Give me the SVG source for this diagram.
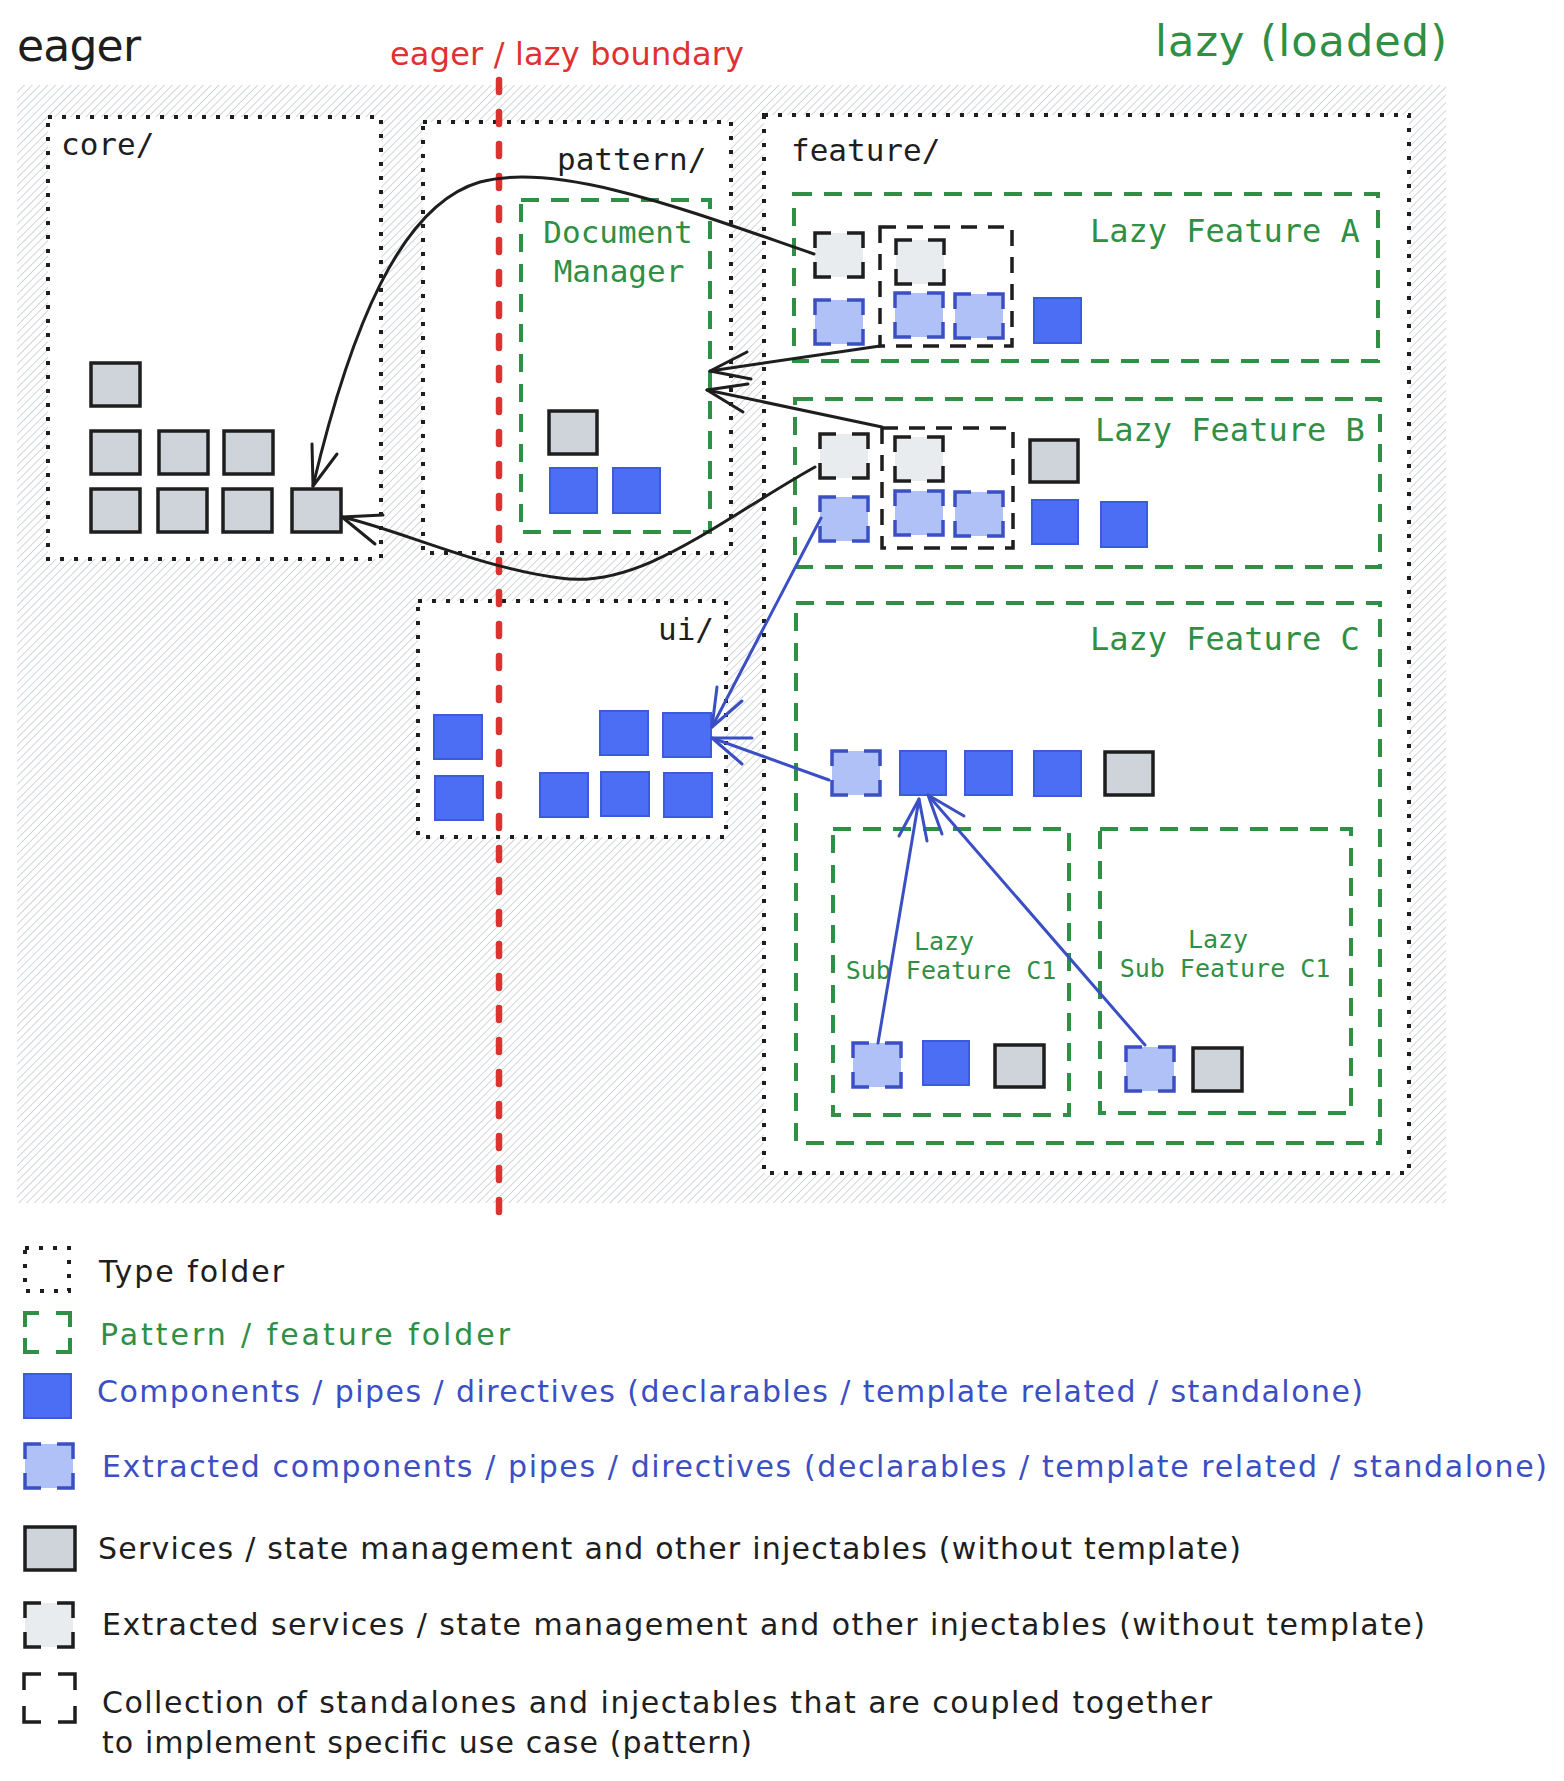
<svg xmlns="http://www.w3.org/2000/svg" xmlns:xlink="http://www.w3.org/1999/xlink" width="1564" height="1781" viewBox="0 0 1564 1781">
<style>
.hand{font-family:"DejaVu Sans","Liberation Sans",sans-serif}
.mono{font-family:"DejaVu Sans Mono","Liberation Mono",monospace}
.folder{fill:#fff;stroke:#1e1e1e;stroke-width:4;stroke-dasharray:4 10}
.gbox{fill:none;stroke:#2f8f44;stroke-width:4;stroke-dasharray:18 12}
.cbox{fill:none;stroke:#1e1e1e;stroke-width:3.5;stroke-dasharray:16 11}
.svc{fill:#ced4da;stroke:#1e1e1e;stroke-width:3.5}
.cmp{fill:#4c6ef5;stroke:#3b5bdb;stroke-width:2}
.xs{fill:#e9ecef;stroke:#1e1e1e}
.xb{fill:#b0c1f7;stroke:#3b4fc4}
.blk{fill:#1e1e1e}
.grn{fill:#2f8f44}
.blu{fill:#3b4fc4}
.arrow{fill:none;stroke:#1e1e1e;stroke-width:3;stroke-linecap:round;stroke-linejoin:round}
.barrow{fill:none;stroke:#3b4fc4;stroke-width:3;stroke-linecap:round;stroke-linejoin:round}
</style>
<defs>
<pattern id="hatch" patternUnits="userSpaceOnUse" width="5.5" height="5.5" patternTransform="rotate(45)">
<line x1="0" y1="0" x2="0" y2="5.5" stroke="#bfc4c9" stroke-width="1.4"/>
</pattern>
<g id="xc">
<rect width="48" height="44" stroke="none"/>
<path d="M0,15V0H16M32,0H48V15M48,29V44H32M16,44H0V29" fill="none" stroke-width="3.5"/>
</g>
</defs>
<rect width="1564" height="1781" fill="#fff"/>
<rect id="background" x="17" y="85" width="1429" height="1118" fill="url(#hatch)"/>

<text class="hand blk" x="17" y="61" font-size="44" textLength="124">eager</text>
<text class="hand" x="390" y="65" font-size="32" fill="#e03131" textLength="354">eager / lazy boundary</text>
<text class="hand grn" x="1155" y="56" font-size="43" textLength="292">lazy (loaded)</text>

<g id="core">
<rect class="folder" x="48" y="117" width="333" height="442"/>
<text class="mono blk" x="61" y="155" font-size="31">core/</text>
<rect class="svc" x="91" y="363" width="49" height="43"/>
<rect class="svc" x="91" y="431" width="49" height="43"/>
<rect class="svc" x="159" y="431" width="49" height="43"/>
<rect class="svc" x="224" y="431" width="49" height="43"/>
<rect class="svc" x="91" y="489" width="49" height="43"/>
<rect class="svc" x="158" y="489" width="49" height="43"/>
<rect class="svc" x="223" y="489" width="49" height="43"/>
<rect class="svc" x="292" y="489" width="49" height="43"/>
</g>

<g id="pattern">
<rect class="folder" x="423" y="122" width="308" height="431"/>
<text class="mono blk" x="557" y="170" font-size="31">pattern/</text>
</g>

<g id="document-manager">
<rect class="gbox" x="521" y="200" width="189" height="332"/>
<text class="mono grn" x="618" y="243" font-size="31" text-anchor="middle">Document</text>
<text class="mono grn" x="619" y="282" font-size="31" text-anchor="middle">Manager</text>
<rect class="svc" x="549" y="411" width="48" height="43"/>
<rect class="cmp" x="550" y="468" width="47" height="45"/>
<rect class="cmp" x="613" y="468" width="47" height="45"/>
</g>

<g id="ui">
<rect class="folder" x="418" y="601" width="308" height="236"/>
<text class="mono blk" x="658" y="640" font-size="31">ui/</text>
<rect class="cmp" x="434" y="715" width="48" height="44"/>
<rect class="cmp" x="435" y="776" width="48" height="44"/>
<rect class="cmp" x="600" y="711" width="48" height="44"/>
<rect class="cmp" x="663" y="713" width="48" height="44"/>
<rect class="cmp" x="540" y="773" width="48" height="44"/>
<rect class="cmp" x="601" y="772" width="48" height="44"/>
<rect class="cmp" x="664" y="773" width="48" height="44"/>
</g>

<g id="feature">
<rect class="folder" x="764" y="115" width="645" height="1058"/>
<text class="mono blk" x="791" y="161" font-size="31">feature/</text>
</g>

<g id="lazy-feature-a">
<rect class="gbox" x="794" y="194" width="584" height="167"/>
<text class="mono grn" x="1090" y="242" font-size="32">Lazy Feature A</text>
<use href="#xc" class="xs" x="815" y="233"/>
<use href="#xc" class="xb" x="815" y="300"/>
<rect class="cbox" x="880" y="227" width="132" height="119"/>
<use href="#xc" class="xs" x="896" y="240"/>
<use href="#xc" class="xb" x="895" y="293"/>
<use href="#xc" class="xb" x="955" y="294"/>
<rect class="cmp" x="1034" y="298" width="47" height="45"/>
</g>

<g id="lazy-feature-b">
<rect class="gbox" x="795" y="399" width="585" height="168"/>
<text class="mono grn" x="1095" y="441" font-size="32">Lazy Feature B</text>
<use href="#xc" class="xs" x="820" y="434"/>
<use href="#xc" class="xb" x="820" y="497"/>
<rect class="cbox" x="882" y="428" width="131" height="120"/>
<use href="#xc" class="xs" x="895" y="437"/>
<use href="#xc" class="xb" x="895" y="491"/>
<use href="#xc" class="xb" x="955" y="492"/>
<rect class="svc" x="1030" y="440" width="48" height="42"/>
<rect class="cmp" x="1032" y="500" width="46" height="44"/>
<rect class="cmp" x="1101" y="502" width="46" height="45"/>
</g>

<g id="lazy-feature-c">
<rect class="gbox" x="796" y="603" width="584" height="540"/>
<text class="mono grn" x="1090" y="650" font-size="32">Lazy Feature C</text>
<use href="#xc" class="xb" x="832" y="751"/>
<rect class="cmp" x="900" y="751" width="46" height="44"/>
<rect class="cmp" x="965" y="751" width="47" height="44"/>
<rect class="cmp" x="1034" y="751" width="47" height="45"/>
<rect class="svc" x="1105" y="752" width="48" height="43"/>
</g>

<g id="lazy-sub-feature-c1-left">
<rect class="gbox" x="833" y="829" width="236" height="286"/>
<text class="mono grn" x="944" y="950" font-size="25" text-anchor="middle">Lazy</text>
<text class="mono grn" x="951" y="979" font-size="25" text-anchor="middle">Sub Feature C1</text>
<use href="#xc" class="xb" x="853" y="1043"/>
<rect class="cmp" x="923" y="1041" width="46" height="44"/>
<rect class="svc" x="995" y="1045" width="49" height="42"/>
</g>

<g id="lazy-sub-feature-c1-right">
<rect class="gbox" x="1100" y="829" width="251" height="284"/>
<text class="mono grn" x="1218" y="948" font-size="25" text-anchor="middle">Lazy</text>
<text class="mono grn" x="1225" y="977" font-size="25" text-anchor="middle">Sub Feature C1</text>
<use href="#xc" class="xb" x="1126" y="1047"/>
<rect class="svc" x="1193" y="1048" width="49" height="43"/>
</g>

<g id="boundary">
<line x1="499" y1="80" x2="499" y2="1231" stroke="#e03131" stroke-width="6.5" stroke-linecap="round" stroke-dasharray="12 20"/>
</g>

<g id="connectors">
<path class="arrow" d="M814,254 C700,215 560,160 480,182 C400,205 350,330 313,486"/>
<path class="arrow" d="M337,454 L313,486 L312,444"/>
<path class="arrow" d="M815,467 C720,520 640,590 560,578 C480,568 400,530 342,517"/>
<path class="arrow" d="M383,515 L342,517 L375,544"/>
<path class="arrow" d="M880,346 L710,371"/>
<path class="arrow" d="M747,352 L710,371 L751,379"/>
<path class="arrow" d="M882,427 L707,390"/>
<path class="arrow" d="M748,384 L707,390 L743,412"/>
<path class="barrow" d="M821,518 L712,727"/>
<path class="barrow" d="M717,687 L712,727 L742,701"/>
<path class="barrow" d="M829,780 L712,738"/>
<path class="barrow" d="M752,738 L712,738 L742,764"/>
<path class="barrow" d="M878,1043 L919,799"/>
<path class="barrow" d="M899,836 L919,799 L927,841"/>
<path class="barrow" d="M1145,1045 L928,795"/>
<path class="barrow" d="M942,834 L928,795 L964,816"/>
</g>

<g id="legend">
<rect class="folder" x="25" y="1248" width="44" height="43"/>
<text class="hand blk" x="99" y="1282" font-size="30" textLength="185">Type folder</text>
<path d="M25,1327V1313H39M56,1313H70V1327M70,1338V1352H56M39,1352H25V1338" fill="none" stroke="#2f8f44" stroke-width="4"/>
<text class="hand grn" x="100" y="1345" font-size="30" textLength="410">Pattern / feature folder</text>
<rect class="cmp" x="24" y="1374" width="47" height="44"/>
<text class="hand blu" x="97" y="1402" font-size="30" textLength="1266">Components / pipes / directives (declarables / template related / standalone)</text>
<use href="#xc" class="xb" x="25" y="1444"/>
<text class="hand blu" x="102" y="1477" font-size="30" textLength="1445">Extracted components / pipes / directives (declarables / template related / standalone)</text>
<rect class="svc" x="25" y="1527" width="50" height="43"/>
<text class="hand blk" x="98" y="1559" font-size="30" textLength="1143">Services / state management and other injectables (without template)</text>
<use href="#xc" class="xs" x="25" y="1603"/>
<text class="hand blk" x="102" y="1635" font-size="30" textLength="1323">Extracted services / state management and other injectables (without template)</text>
<path d="M24,1690V1674H41M58,1674H75V1690M75,1706V1722H58M41,1722H24V1706" fill="none" stroke="#1e1e1e" stroke-width="3.5"/>
<text class="hand blk" x="102" y="1713" font-size="30" textLength="1110">Collection of standalones and injectables that are coupled together</text>
<text class="hand blk" x="102" y="1753" font-size="30" textLength="650">to implement specific use case (pattern)</text>
</g>
</svg>
